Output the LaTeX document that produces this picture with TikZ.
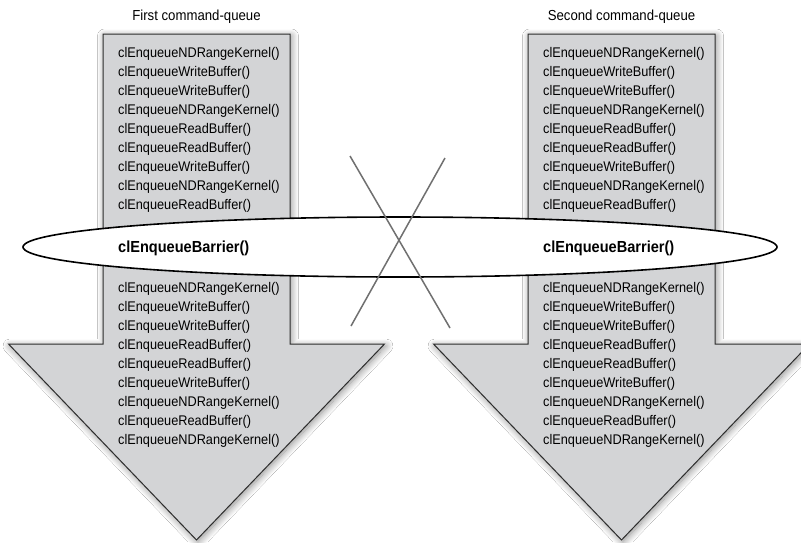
\documentclass[tikz,border=0pt]{standalone}
\usepackage{fontspec}
\setmainfont{Liberation Sans}[FakeStretch=0.91]
\usetikzlibrary{shadows.blur,shapes.geometric}
\definecolor{arrowfill}{RGB}{211,212,214}
\definecolor{arrowedge}{RGB}{45,45,45}
\definecolor{crossgray}{RGB}{112,112,112}
\begin{document}
\begin{tikzpicture}[x=1pt,y=-1pt,
  queuearrow/.style={fill=arrowfill, draw=arrowedge, line width=1pt, line join=miter,
    blur shadow={shadow xshift=1.5pt, shadow yshift=-2pt, shadow blur radius=7pt,
      shadow opacity=45, shadow blur steps=12}},
  cmd/.style={anchor=base west, inner sep=0pt, font=\fontsize{14}{16}\selectfont},
  title/.style={anchor=base, inner sep=0pt, font=\fontsize{14.5}{16}\selectfont},
  barriertext/.style={anchor=base west, inner sep=0pt, font=\bfseries\fontsize{16}{18}\selectfont},
  barrierring/.style={ellipse, draw=black, fill=white, line width=1.6pt, inner sep=0pt,
    minimum width=754pt, minimum height=60pt},
  crossline/.style={draw=crossgray, line width=1.5pt}
]
\useasboundingbox (0,0) rectangle (801,542);
\clip (0,0) rectangle (801,542);
\fill[white] (0,0) rectangle (801,542);

% arrows
\path[queuearrow] (103,34) -- (290,34) -- (290,344) -- (384.5,344) -- (196.5,540)
  -- (8.5,344) -- (103,344) -- cycle;
\path[queuearrow] (528,34) -- (715,34) -- (715,344) -- (809.5,344) -- (621.5,540)
  -- (433.5,344) -- (528,344) -- cycle;

% titles
\node[title] (t1) at (196.5,20) {First command-queue};
\node[title] (t2) at (621.5,20) {Second command-queue};

% command lists
\foreach \dx/\q in {0/A,425/B}{
  \foreach \t [count=\i] in {clEnqueueNDRangeKernel(),clEnqueueWriteBuffer(),clEnqueueWriteBuffer(),
      clEnqueueNDRangeKernel(),clEnqueueReadBuffer(),clEnqueueReadBuffer(),
      clEnqueueWriteBuffer(),clEnqueueNDRangeKernel(),clEnqueueReadBuffer()}{
    \node[cmd] (top\q\i) at ({118+\dx},{57+19*(\i-1)}) {\t};
  }
  \foreach \t [count=\i] in {clEnqueueNDRangeKernel(),clEnqueueWriteBuffer(),clEnqueueWriteBuffer(),
      clEnqueueReadBuffer(),clEnqueueReadBuffer(),clEnqueueWriteBuffer(),
      clEnqueueNDRangeKernel(),clEnqueueReadBuffer(),clEnqueueNDRangeKernel()}{
    \node[cmd] (bot\q\i) at ({118+\dx},{292+19*(\i-1)}) {\t};
  }
}

% barrier ring
\node[barrierring] (ring) at (400,247) {};
\node[barriertext] (barA) at (118,252.5) {clEnqueueBarrier()};
\node[barriertext] (barB) at (543,252.5) {clEnqueueBarrier()};

% cross
\coordinate (c1s) at (350,156);
\coordinate (c1e) at (450,328);
\coordinate (c2s) at (445,158);
\coordinate (c2e) at (351,326);
\draw[crossline] (c1s) -- (c1e);
\draw[crossline] (c2s) -- (c2e);
\end{tikzpicture}
\end{document}
